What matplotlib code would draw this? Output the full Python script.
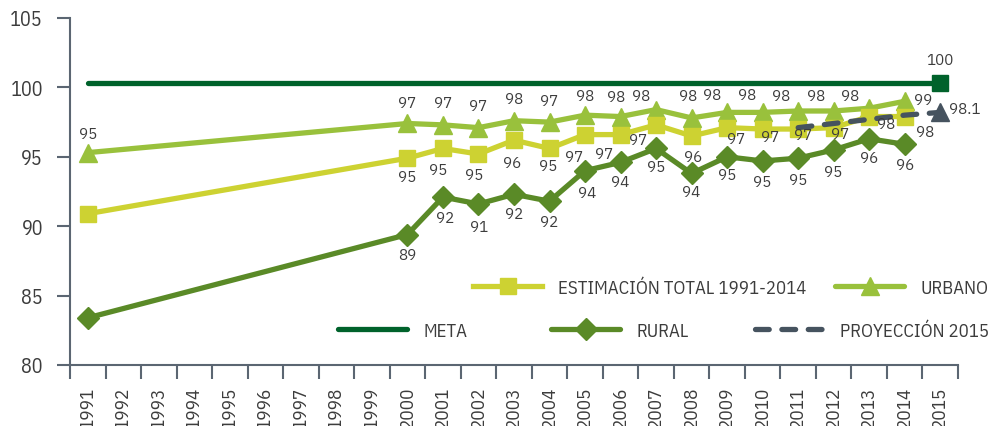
import matplotlib
matplotlib.use("Agg")
import matplotlib.pyplot as plt
from matplotlib.lines import Line2D
import numpy as np

# ---------------- data ----------------
tick_years = list(range(1991, 2016))
series_years = [1991] + list(range(2000, 2015))

total = [90.9, 94.9, 95.6, 95.2, 96.2, 95.6, 96.6, 96.6, 97.3, 96.5, 97.1, 97.0, 97.0, 97.1, 97.9, 97.9]
total_labels = [None, '95', '95', '95', '96', '95', '97', '97', '97', '96', '97', '97', '97', '97', '98', '98']

urban = [95.3, 97.4, 97.3, 97.1, 97.6, 97.5, 98.0, 97.9, 98.4, 97.8, 98.2, 98.2, 98.3, 98.3, 98.5, 99.0]
urban_labels = ['95', '97', '97', '97', '98', '97', '98', '98', '98', '98', '98', '98', '98', '98', '98', '99']

rural = [83.4, 89.4, 92.1, 91.6, 92.3, 91.8, 94.0, 94.6, 95.6, 93.8, 95.0, 94.7, 94.9, 95.5, 96.3, 95.9]
rural_labels = [None, '89', '92', '91', '92', '92', '94', '94', '95', '94', '95', '95', '95', '95', '96', '96']

meta_years = [1991, 2015]
meta = [100.3, 100.3]
meta_label = '100'

proj_years = [2011, 2012, 2013, 2014, 2015]
proj = [97.1, 97.4, 97.7, 98.0, 98.2]
proj_label = '98.1'

# label nudges (pixels) -- styling only
urban_off = [(0, 19), (0, 20), (0, 22), (0, 22), (0, 22), (0, 21), (0, 19), (-4, 20), (-15, 14),
             (-3, 22), (-15, 17), (-16, 17), (-17, 15), (-18, 15), (-19, 12), (18, 1)]
total_off = [(0, 0), (0, -19), (-5, -22), (-4, -21), (-2, -23), (-1, -18), (-11, -22), (-16, -19),
             (-18, -15), (2, -21), (9, -11), (7, -8), (5, -6), (6, -6), (17, -7), (20, -15)]
rural_off = [(0, 0), (0, -20), (2, -21), (1, -23), (0, -20), (0, -21), (2, -22), (0, -20), (0, -19),
             (0, -19), (0, -18), (0, -21), (0, -22), (0, -22), (0, -19), (0, -21)]

# ---------------- style ----------------
C_META = '#00622b'
C_TOTAL = '#cdd232'
C_URBAN = '#99c13c'
C_RURAL = '#5a8a27'
C_PROJ = '#46535f'
C_TEXT = '#3c3c3c'
C_AXIS = '#5b6672'

NARROW = ['IBM Plex Sans Condensed', 'DejaVu Sans']
LABELF = ['IBM Plex Sans', 'DejaVu Sans']

W, H = 997, 427
fig = plt.figure(figsize=(W / 100, H / 100), dpi=100)
ax = fig.add_axes([70 / W, 1 - 366 / H, (958 - 70) / W, (366 - 19) / H])

def xpos(years):
    return [tick_years.index(y) for y in years]

LW = 3.8
ax.plot(xpos(meta_years), meta, color=C_META, lw=LW, solid_capstyle='round', zorder=3)
ax.plot(xpos(meta_years)[-1:], meta[-1:], marker='s', ms=12, color=C_META, ls='none', zorder=6)

ax.plot(xpos(series_years), rural, color=C_RURAL, lw=LW, marker='D', ms=11, zorder=4,
        solid_joinstyle='miter')
ax.plot(xpos(series_years), urban, color=C_URBAN, lw=LW, marker='^', ms=13, zorder=4)
ax.plot(xpos(series_years), total, color=C_TOTAL, lw=LW, marker='s', ms=12, zorder=5)
ax.plot(xpos(proj_years), proj, color=C_PROJ, lw=LW, ls=(0, (2.6, 2.4)), dash_capstyle='round',
        zorder=7)
ax.plot(xpos(proj_years)[-1:], proj[-1:], marker='^', ms=13, color=C_PROJ, ls='none', zorder=7)

def labels(years, vals, labs, offs):
    for x, v, l, o in zip(xpos(years), vals, labs, offs):
        if l is None:
            continue
        ax.annotate(l, (x, v), xytext=o, textcoords='offset pixels', ha='center', va='center',
                    fontsize=11, color=C_TEXT, family=LABELF, fontweight='light', zorder=8)

labels(series_years, urban, urban_labels, urban_off)
labels(series_years, total, total_labels, total_off)
labels(series_years, rural, rural_labels, rural_off)
ax.annotate(meta_label, (xpos(meta_years)[-1], meta[-1]), xytext=(0, 23), textcoords='offset pixels',
            ha='center', va='center', fontsize=11, color=C_TEXT, family=LABELF, fontweight='light')
ax.annotate(proj_label, (xpos(proj_years)[-1], proj[-1]), xytext=(9, 3), textcoords='offset pixels',
            ha='left', va='center', fontsize=11, color=C_TEXT, family=LABELF, fontweight='light')

# ---------------- axes ----------------
ax.set_xlim(-0.5, len(tick_years) - 0.5)
ax.set_ylim(80, 105)
ax.set_yticks([80, 85, 90, 95, 100, 105])
ax.set_xticks(range(len(tick_years)))
ax.set_xticklabels([str(y) for y in tick_years], rotation=90, fontsize=13.8, family=NARROW,
                   color=C_TEXT, va='top', ha='center')
ax.set_xticks(np.arange(-0.5, len(tick_years), 1.0), minor=True)
ax.tick_params(axis='x', which='major', length=0, pad=15)
ax.tick_params(axis='x', which='minor', length=10, width=1.5, color=C_AXIS, direction='out')
ax.tick_params(axis='y', length=9.5, width=1.5, color=C_AXIS, pad=10, labelsize=14.5)
for t in ax.get_yticklabels():
    t.set_family(NARROW)
    t.set_color(C_TEXT)
for s in ['top', 'right']:
    ax.spines[s].set_visible(False)
for s in ['left', 'bottom']:
    ax.spines[s].set_color(C_AXIS)
    ax.spines[s].set_linewidth(1.5)
ax.patch.set_alpha(0)

# ---------------- legend ----------------
entries = [
    (Line2D([], [], color=C_TOTAL, lw=LW, marker='s', ms=12), 'ESTIMACIÓN TOTAL 1991-2014', 473, 289),
    (Line2D([], [], color=C_URBAN, lw=LW, marker='^', ms=13, solid_capstyle='round'), 'URBANO', 835, 289),
    (Line2D([], [], color=C_META, lw=LW, solid_capstyle='round'), 'META', 338, 332),
    (Line2D([], [], color=C_RURAL, lw=LW, marker='D', ms=11, solid_capstyle='round'), 'RURAL', 551, 332),
    (Line2D([], [], color=C_PROJ, lw=LW, ls=(0, (2.6, 2.4)), dash_capstyle='round'), 'PROYECCIÓN 2015', 755, 332),
]
for h, lab, px, py in entries:
    leg = fig.legend([h], [lab], loc='center left', bbox_to_anchor=(px / W, 1 - py / H),
                     frameon=False, borderpad=0, borderaxespad=0, handlelength=3.7,
                     handletextpad=0.85, numpoints=1,
                     prop={'family': NARROW, 'size': 13.5})
    for t in leg.get_texts():
        t.set_color(C_TEXT)

fig.savefig('out.png', dpi=100)
